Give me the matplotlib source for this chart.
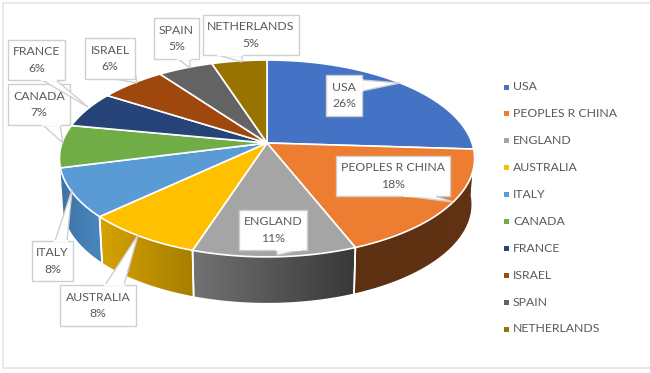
import numpy as np
import matplotlib
matplotlib.use("Agg")
import matplotlib.pyplot as plt
from matplotlib.patches import Polygon, Rectangle

countries = ["USA", "PEOPLES R CHINA", "ENGLAND", "AUSTRALIA", "ITALY",
             "CANADA", "FRANCE", "ISRAEL", "SPAIN", "NETHERLANDS"]
shares = [26, 18, 11, 8, 8, 7, 6, 6, 5, 5]
top_colors = ["#4472C4", "#ED7D31", "#A5A5A5", "#FFC000", "#5B9BD5",
              "#70AD47", "#264478", "#9E480E", "#636363", "#997300"]
# side wall shading, left end to right end
side_left = ["#2d4c83", "#5c3011", "#727272", "#d5a300", "#3d74a6",
             "#4a7330", "#192d50", "#693009", "#424242", "#664d00"]
side_right = ["#2d4c83", "#613214", "#383838", "#a67d00", "#4a86bf",
              "#4a7330", "#192d50", "#693009", "#424242", "#664d00"]

plt.rcParams["font.family"] = ["Lato", "DejaVu Sans"]
TEXT = "#595959"
BOX_EDGE = "#cfcfcf"

fig = plt.figure(figsize=(6.5, 3.73), dpi=100)
ax = fig.add_axes([0, 0, 1, 1])
ax.set_xlim(0, 650)
ax.set_ylim(373, 0)
ax.axis("off")

# chart frame, runs off the right edge
ax.add_patch(Rectangle((3, 3), 660, 365, fc="white", ec="#e4e4e4", lw=1.2))

# -----------------------------
# Pie projection
# -----------------------------

cx, cy = 267, 143
rx, ry = 205, 96
tilt = 0.157
depth = 46


def rim(theta, scale=1.0, drop=0.0):
    d = 1 + tilt * np.cos(theta)
    x = cx + scale * rx * np.sin(theta) / d
    y = cy - ry * np.cos(theta) / d + drop
    return x, y


edges = np.radians(np.cumsum([0] + shares) * 3.6)

# -----------------------------
# Side wall
# -----------------------------

for i in range(len(shares)):
    a0, a1 = edges[i], edges[i + 1]
    # only the slices facing the viewer show a wall
    if a1 < np.pi / 2 or a0 > 1.4 * np.pi:
        continue
    th = np.linspace(a0, a1, 100)
    xt, yt = rim(th)
    xb, yb = rim(th, 0.985, depth)
    outline = list(zip(xt, yt)) + list(zip(xb[::-1], yb[::-1]))
    wall = Polygon(outline, fc="none", ec="none")
    ax.add_patch(wall)

    cmap = matplotlib.colors.LinearSegmentedColormap.from_list(
        "wall", [side_left[i], side_right[i]])
    img = ax.imshow(np.linspace(0, 1, 128).reshape(1, -1), cmap=cmap,
                    extent=[min(xt.min(), xb.min()), max(xt.max(), xb.max()),
                            373, 0],
                    aspect="auto", interpolation="bilinear", zorder=1)
    img.set_clip_path(wall)

    # white seams between the walls
    for a in (a0, a1):
        if np.pi * 0.75 < a < np.pi * 1.39:
            x0, y0 = rim(a)
            x1, y1 = rim(a, 0.985, depth)
            ax.plot([x0, x1], [y0, y1], color="white", lw=1.2, zorder=1.5)

ax.set_xlim(0, 650)
ax.set_ylim(373, 0)

# -----------------------------
# Top face
# -----------------------------

for i in range(len(shares)):
    th = np.linspace(edges[i], edges[i + 1], 80)
    x, y = rim(th)
    pts = [(cx, cy)] + list(zip(x, y))
    ax.add_patch(Polygon(pts, fc=top_colors[i], ec="white", lw=1.2,
                         joinstyle="round", zorder=2))

# -----------------------------
# Callouts
# -----------------------------

boxes = {
    "USA": ((326, 75, 362, 116), [(362, 80), (400, 83), (362, 91)]),
    "PEOPLES R CHINA": ((336, 156, 450, 196), [(405, 196), (453, 202), (435, 196)]),
    "ENGLAND": ((239, 210, 307, 250), [(277, 250), (277, 255), (300, 250)]),
    "AUSTRALIA": ((60, 285, 136, 326), [(105, 285), (138, 235), (124, 285)]),
    "ITALY": ((32, 241, 73, 281), [(55, 241), (72, 190), (67, 241)]),
    "CANADA": ((8, 84, 70, 125), [(43, 125), (63, 143), (60, 125)]),
    "FRANCE": ((8, 40, 65, 80), [(42, 80), (88, 107), (56, 80)]),
    "ISRAEL": ((85, 38, 135, 79), [(115, 79), (137, 83), (135, 72)]),
    "SPAIN": ((154, 18, 199, 59), [(178, 59), (190, 68), (190, 59)]),
    "NETHERLANDS": ((203, 15, 299, 55), [(218, 55), (242, 62), (242, 55)]),
}

for name, share in zip(countries, shares):
    (x0, y0, x1, y1), tail = boxes[name]
    ax.add_patch(Polygon(tail, fc="white", ec=BOX_EDGE, lw=1.0, zorder=3))
    ax.add_patch(Rectangle((x0, y0), x1 - x0, y1 - y0, fc="white", ec=BOX_EDGE,
                           lw=1.0, zorder=3))
    # hide the box edge where the tail joins it
    tx = [p[0] for p in tail]
    ty = [p[1] for p in tail]
    if ty[0] == ty[2] or tx[0] == tx[2]:
        ax.plot([tx[0], tx[2]], [ty[0], ty[2]], color="white", lw=1.4, zorder=4)
    ax.text((x0 + x1) / 2, (y0 + y1) / 2, f"{name}\n{share}%", ha="center",
            va="center", fontsize=8.8, color=TEXT, linespacing=1.6, zorder=5)

# -----------------------------
# Legend
# -----------------------------

legend_y = np.linspace(87, 329, len(countries))
for name, col, y in zip(countries, top_colors, legend_y):
    ax.add_patch(Rectangle((503.5, y - 2.5), 5, 5, fc=col, ec="none"))
    ax.text(513, y, name, ha="left", va="center", fontsize=8.8, color=TEXT)

plt.savefig("out.png", dpi=100)
